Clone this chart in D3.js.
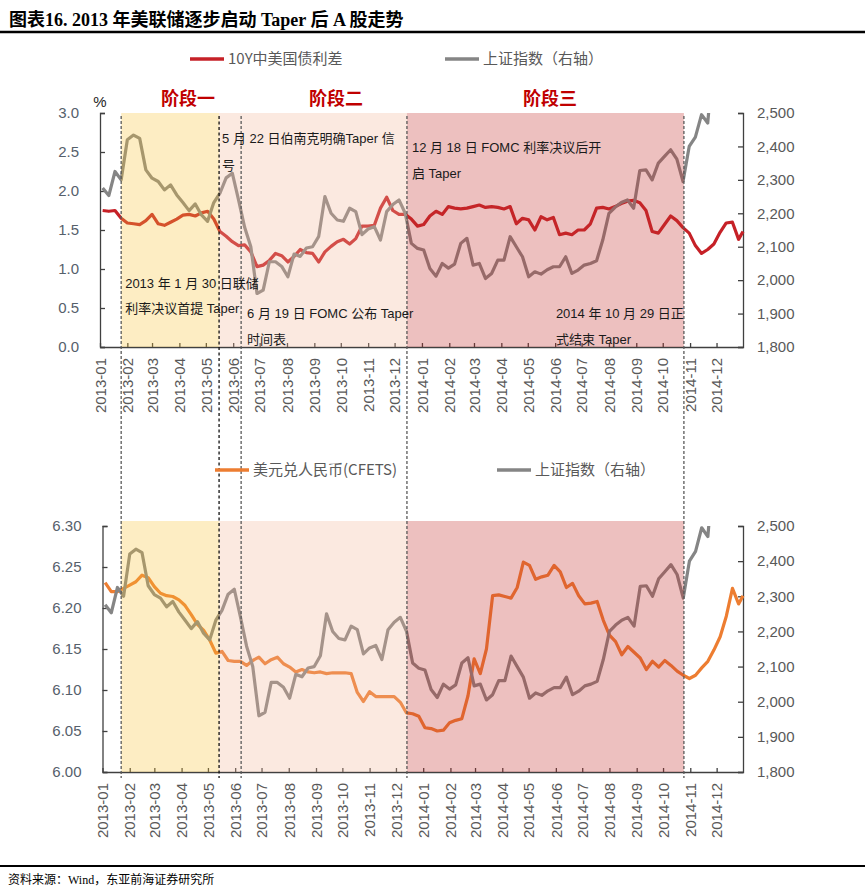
<!DOCTYPE html>
<html>
<head>
<meta charset="utf-8">
<script src="https://cdn.jsdelivr.net/npm/d3@7"></script>
<style>
    body { margin: 0; background: #fff; }
    svg { display: block; }
</style>
</head>
<body>
<svg id="chart" width="865" height="896"></svg>
<script>
// weekly readings (Fridays) plus the last day of 2014
const weekDates = d3.timeFriday.range(new Date(2013, 0, 1), new Date(2014, 11, 27))
    .concat([new Date(2014, 11, 31)]);

// 10Y China - US yield spread, %
const spreadValues = [
    1.75, 1.74, 1.75, 1.65, 1.59, 1.58, 1.57, 1.62, 1.70, 1.58,
    1.56, 1.60, 1.64, 1.69, 1.70, 1.68, 1.72, 1.74, 1.64, 1.48,
    1.42, 1.35, 1.30, 1.31, 1.22, 1.03, 1.05, 1.11, 1.20, 1.17,
    1.09, 1.16, 1.25, 1.21, 1.20, 1.09, 1.22, 1.29, 1.35, 1.38,
    1.32, 1.39, 1.55, 1.55, 1.56, 1.78, 1.92, 1.75, 1.70, 1.70,
    1.64, 1.55, 1.57, 1.68, 1.74, 1.70, 1.80, 1.78, 1.77, 1.78,
    1.80, 1.82, 1.79, 1.80, 1.79, 1.77, 1.80, 1.58, 1.65, 1.63,
    1.50, 1.67, 1.63, 1.66, 1.44, 1.46, 1.44, 1.50, 1.50, 1.58,
    1.78, 1.79, 1.77, 1.80, 1.84, 1.87, 1.88, 1.85, 1.75, 1.48,
    1.46, 1.57, 1.68, 1.62, 1.53, 1.46, 1.30, 1.20, 1.25, 1.32,
    1.47, 1.59, 1.60, 1.38, 1.48
];

// Shanghai Composite (right axis); runs off the top in late Nov 2014
const shIndexValues = [
    2276, 2253, 2325, 2300, 2420, 2434, 2424, 2330, 2305, 2295,
    2270, 2285, 2255, 2232, 2208, 2228, 2195, 2176, 2232, 2260,
    2306, 2320, 2241, 2158, 2100, 1960, 1970, 2055, 2055, 2041,
    2010, 2078, 2071, 2096, 2100, 2131, 2250, 2200, 2180, 2176,
    2215, 2205, 2136, 2153, 2160, 2120, 2205, 2226, 2240, 2200,
    2110, 2095, 2090, 2035, 2012, 2050, 2036, 2048, 2110, 2125,
    2045, 2050, 2005, 2020, 2060, 2060, 2130, 2100, 2070, 2010,
    2025, 2018, 2031, 2040, 2040, 2070, 2020, 2030, 2045, 2050,
    2058, 2120, 2200, 2218, 2232, 2240, 2215, 2328, 2330, 2300,
    2350, 2370, 2390, 2362, 2295, 2400, 2428, 2495, 2470, 2680,
    null, null, null, null, null
];

// USD/CNY (CFETS)
const usdCnyValues = [
    6.231, 6.220, 6.220, 6.224, 6.228, 6.232, 6.240, 6.237, 6.226, 6.218,
    6.215, 6.214, 6.210, 6.203, 6.192, 6.180, 6.173, 6.161, 6.145, 6.147,
    6.136, 6.135, 6.135, 6.130, 6.136, 6.140, 6.132, 6.137, 6.140, 6.132,
    6.128, 6.122, 6.125, 6.122, 6.121, 6.122, 6.120, 6.121, 6.121, 6.121,
    6.120, 6.097, 6.086, 6.098, 6.092, 6.092, 6.092, 6.092, 6.085, 6.072,
    6.071, 6.068, 6.054, 6.053, 6.050, 6.051, 6.060, 6.063, 6.065, 6.093,
    6.138, 6.120, 6.150, 6.215, 6.216, 6.214, 6.212, 6.225, 6.256, 6.252,
    6.235, 6.238, 6.240, 6.252, 6.244, 6.225, 6.230, 6.215, 6.205, 6.206,
    6.208, 6.185, 6.167, 6.159, 6.143, 6.153, 6.146, 6.139, 6.125, 6.135,
    6.128, 6.136, 6.130, 6.123, 6.118, 6.114, 6.118, 6.127, 6.135, 6.149,
    6.165, 6.190, 6.224, 6.205, 6.215
];

const monthTicks = d3.timeMonth.range(new Date(2013, 0, 1), new Date(2015, 0, 1));
const spreadTicks = [0, 0.5, 1, 1.5, 2, 2.5, 3];
const fxTicks = [6.00, 6.05, 6.10, 6.15, 6.20, 6.25, 6.30];
const indexTicks = [1800, 1900, 2000, 2100, 2200, 2300, 2400, 2500];

// where the reference draws its dashed guide lines
const guideDates = ['2013-01-25', '2013-05-16', '2013-06-10', '2013-12-15', '2014-10-25'];
const stageNames = ['阶段一', '阶段二', '阶段三'];
const noteTexts = [
    ['2013 年 1 月 30 日联储', '利率决议首提 Taper'],
    ['5 月 22 日伯南克明确Taper 信', '号'],
    ['6 月 19 日 FOMC 公布 Taper', '时间表'],
    ['12 月 18 日 FOMC 利率决议后开', '启 Taper'],
    ['2014 年 10 月 29 日正', '式结束 Taper']
];

const fontSans = "'Liberation Sans', 'Noto Sans CJK SC', sans-serif",
    fontCjk = "'Noto Sans CJK SC', 'Liberation Sans', sans-serif",
    fontTitle = "'Liberation Serif', 'Noto Sans CJK SC', serif",
    colorSpread = '#C62127',
    colorIndex = '#858585',
    colorFx = '#ED7D31',
    shadeAlpha = 0.3;

const svg = d3.select('#chart');

const upperBox = { left: 100, right: 743, top: 113, bottom: 347 },
    lowerBox = { left: 102.5, right: 743, top: 526, bottom: 772 };

function translator(x, y) {
    return 'translate(' + x + ',' + y + ')';
}

// a translucent fill that lands on the given colour over white,
// so the lines underneath pick up the stage tint
function shadeFill(target) {
    const c = d3.rgb(target),
        lift = v => Math.max(0, 255 - (255 - v) / shadeAlpha);
    return d3.rgb(lift(c.r), lift(c.g), lift(c.b)).formatHex();
}

const parseDay = d3.timeParse('%Y-%m-%d'),
    guides = guideDates.map(parseDay),
    dateSpan = [new Date(2013, 0, 1), new Date(2014, 11, 31)];

const xUpper = d3.scaleTime().domain(dateSpan).range([upperBox.left, upperBox.right]),
    xLower = d3.scaleTime().domain(dateSpan).range([lowerBox.left, lowerBox.right]),
    ySpread = d3.scaleLinear().domain([0, 3]).range([upperBox.bottom, upperBox.top]),
    yIndexUpper = d3.scaleLinear().domain([1800, 2500]).range([upperBox.bottom, upperBox.top]),
    yFx = d3.scaleLinear().domain([6.0, 6.3]).range([lowerBox.bottom, lowerBox.top]),
    yIndexLower = d3.scaleLinear().domain([1800, 2500]).range([lowerBox.bottom, lowerBox.top]);

function toPoints(values) {
    return weekDates.map((d, i) => ({ date: d, v: values[i] }));
}

svg.append('rect').attr('width', 865).attr('height', 896).attr('fill', '#fff');

function styleAxis(g, color) {
    g.select('.domain').attr('stroke', '#404040').attr('stroke-width', 1.3);
    g.selectAll('.tick line').attr('stroke', '#404040').attr('stroke-width', 1.3);
    g.selectAll('text')
        .attr('fill', color)
        .style('font-family', fontSans)
        .style('font-size', '15px');
}

function drawPanel(box, x, yLeft, yRight, leftTicks, leftFormat, series, clipId, bandTop) {
    const g = svg.append('g');

    g.append('g')
        .attr('transform', translator(box.left, 0))
        .call(d3.axisLeft(yLeft).tickValues(leftTicks).tickFormat(leftFormat).tickSize(-5).tickPadding(21))
        .call(styleAxis, '#56606B');

    g.append('g')
        .attr('transform', translator(box.right, 0))
        .call(d3.axisRight(yRight).tickValues(indexTicks).tickFormat(d3.format(',')).tickSize(-5).tickPadding(14))
        .call(styleAxis, '#595959');

    const xAxis = g.append('g')
        .attr('transform', translator(0, box.bottom))
        .call(d3.axisBottom(x).tickValues(monthTicks).tickFormat(d3.timeFormat('%Y-%m')).tickSizeInner(-4).tickSizeOuter(0))
        .call(styleAxis, '#595959');

    xAxis.selectAll('text')
        .attr('transform', 'rotate(-90)')
        .attr('text-anchor', 'end')
        .attr('x', -11)
        .attr('y', 0)
        .attr('dy', '0.35em');

    g.append('clipPath')
        .attr('id', clipId)
        .append('rect')
        .attr('x', box.left - 2)
        .attr('y', box.top)
        .attr('width', box.right - box.left + 4)
        .attr('height', box.bottom - box.top);

    series.forEach(s => {
        const line = d3.line()
            .defined(d => d.v != null)
            .x(d => x(d.date))
            .y(d => s.y(d.v));

        g.append('path')
            .datum(toPoints(s.values))
            .attr('clip-path', 'url(#' + clipId + ')')
            .attr('d', line)
            .attr('fill', 'none')
            .attr('stroke', s.color)
            .attr('stroke-width', 3.2)
            .attr('stroke-linejoin', 'round');
    });

    // stage shading sits over the lines and tints them
    const stages = [
        { start: guides[0], end: guides[1], fill: '#FDEDC3' },
        { start: guides[1], end: guides[3], fill: '#FBE9E0' },
        { start: guides[3], end: guides[4], fill: '#EDC0BF' }
    ];

    g.append('g')
        .selectAll('rect')
        .data(stages)
        .join('rect')
        .attr('x', d => xUpper(d.start))
        .attr('y', bandTop)
        .attr('width', d => xUpper(d.end) - xUpper(d.start))
        .attr('height', box.bottom - bandTop)
        .attr('fill', d => shadeFill(d.fill))
        .attr('fill-opacity', shadeAlpha);

    return g;
}

drawPanel(upperBox, xUpper, ySpread, yIndexUpper, spreadTicks, d3.format('.1f'), [
    { values: spreadValues, y: ySpread, color: colorSpread },
    { values: shIndexValues, y: yIndexUpper, color: colorIndex }
], 'clip-upper', upperBox.top);

drawPanel(lowerBox, xLower, yFx, yIndexLower, fxTicks, d3.format('.2f'), [
    { values: usdCnyValues, y: yFx, color: colorFx },
    { values: shIndexValues, y: yIndexLower, color: colorIndex }
], 'clip-lower', lowerBox.top - 5);

// dashed guides run through both panels
svg.append('g')
    .selectAll('line')
    .data(guides)
    .join('line')
    .attr('x1', d => xUpper(d))
    .attr('x2', d => xUpper(d))
    .attr('y1', upperBox.top + 3)
    .attr('y2', lowerBox.bottom + 6)
    .attr('stroke', (d, i) => i === 1 ? '#111' : '#5a5a5a')
    .attr('stroke-width', 1.3)
    .attr('stroke-dasharray', (d, i) => i === 1 ? '3,2.5' : '3,2');

// notes beside the guides
const noteLayout = [
    { dx: 4, y: [288, 313] },
    { dx: 3, y: [143, 170] },
    { dx: 6, y: [318, 344] },
    { dx: 5, y: [152, 178] },
    { dx: -128, y: [318, 344] }
];

noteTexts.forEach((lines, i) => {
    const layout = noteLayout[i];
    lines.forEach((t, j) => {
        svg.append('text')
            .text(t)
            .attr('x', xUpper(guides[i]) + layout.dx)
            .attr('y', layout.y[j])
            .attr('fill', '#1a1a1a')
            .style('font-family', fontSans)
            .style('font-size', '13px');
    });
});

// stage titles
const stageX = [188, 336, 550];
stageNames.forEach((name, i) => {
    svg.append('text')
        .text(name)
        .attr('x', stageX[i])
        .attr('y', 105)
        .attr('text-anchor', 'middle')
        .attr('fill', '#C00000')
        .attr('font-weight', 'bold')
        .style('font-family', fontCjk)
        .style('font-size', '18px');
});

svg.append('text')
    .text('%')
    .attr('x', upperBox.left)
    .attr('y', 107)
    .attr('text-anchor', 'middle')
    .attr('fill', '#262626')
    .style('font-family', fontSans)
    .style('font-size', '15px');

function legendItem(x, y, color, label) {
    const g = svg.append('g').attr('transform', translator(x, y));
    g.append('line')
        .attr('x1', 0)
        .attr('x2', 34)
        .attr('stroke', color)
        .attr('stroke-width', 3.5);
    g.append('text')
        .text(label)
        .attr('x', 38)
        .attr('dy', '0.36em')
        .attr('fill', '#595959')
        .style('font-family', fontCjk)
        .style('font-size', '15px');
}

legendItem(190, 59, colorSpread, '10Y中美国债利差');
legendItem(445, 59, colorIndex, '上证指数（右轴）');
legendItem(215, 470, colorFx, '美元兑人民币(CFETS)');
legendItem(497, 470, colorIndex, '上证指数（右轴）');

// title and source
svg.append('text')
    .text('图表16. 2013 年美联储逐步启动 Taper 后 A 股走势')
    .attr('x', 9)
    .attr('y', 26)
    .attr('fill', '#000')
    .attr('font-weight', 'bold')
    .style('font-family', fontTitle)
    .style('font-size', '18px');

svg.append('line')
    .attr('x1', 0)
    .attr('x2', 865)
    .attr('y1', 32)
    .attr('y2', 32)
    .attr('stroke', '#000')
    .attr('stroke-width', 2.5);

svg.append('line')
    .attr('x1', 0)
    .attr('x2', 865)
    .attr('y1', 866)
    .attr('y2', 866)
    .attr('stroke', '#000')
    .attr('stroke-width', 2);

svg.append('text')
    .text('资料来源：Wind，东亚前海证券研究所')
    .attr('x', 8)
    .attr('y', 884)
    .attr('fill', '#000')
    .style('font-family', fontTitle)
    .style('font-size', '12px');
</script>
</body>
</html>
